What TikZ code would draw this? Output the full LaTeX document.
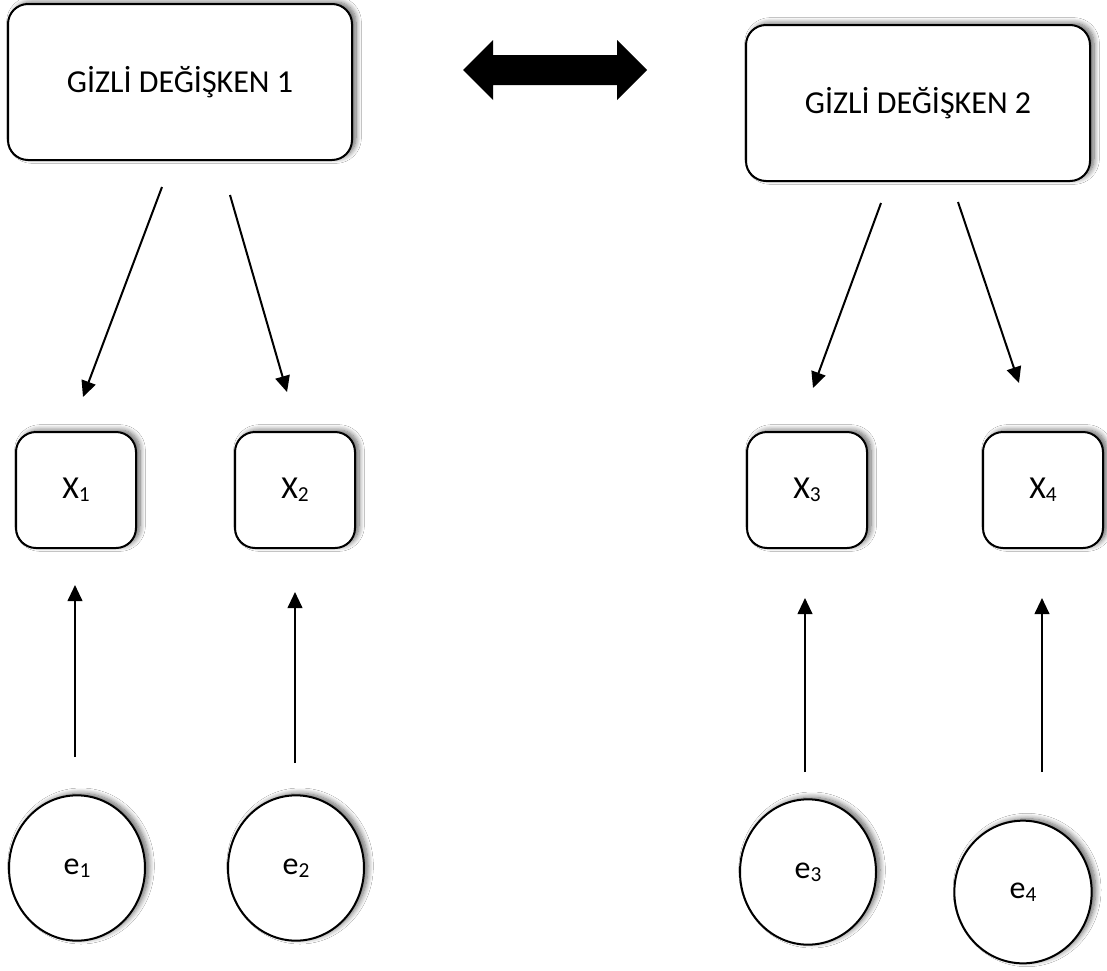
\documentclass[tikz,border=0pt]{standalone}
\usepackage{fontspec}
\setmainfont{Carlito}
\usetikzlibrary{arrows.meta,shapes.geometric,shadows.blur}
\newcommand{\sbs}[1]{\raisebox{-0.1em}{\fontsize{16}{16}\selectfont #1}}
\begin{document}
\begin{tikzpicture}[x=0.75pt,y=-0.75pt,
  shd/.style={blur shadow={shadow xshift=3pt,shadow yshift=1.5pt,shadow blur steps=8,shadow blur radius=4pt,shadow opacity=60}},
  bigbox/.style={draw=black,line width=1.5pt,rounded corners=15pt,fill=white,minimum width=258pt,minimum height=117pt,inner sep=0pt,font=\fontsize{24}{28}\selectfont,shd},
  xbox/.style={draw=black,line width=1.5pt,rounded corners=15pt,fill=white,minimum width=90pt,minimum height=87pt,inner sep=0pt,font=\fontsize{24}{28}\selectfont,shd},
  errc/.style={ellipse,draw=black,line width=1.5pt,fill=white,minimum width=102pt,minimum height=109pt,inner sep=0pt,font=\fontsize{24}{28}\selectfont,shd},
  conn/.style={line width=1.5pt,-{Triangle[length=12pt,width=11pt]}}
]
\fill[white] (0,0) rectangle (1107,971);
\useasboundingbox (0,0) rectangle (1107,971);

\node[bigbox] (g1) at (180,82) {GİZLİ DEĞİŞKEN 1};
\node[bigbox] (g2) at (918,103) {GİZLİ DEĞİŞKEN 2};

\fill[black] (463,70) -- (493,40) -- (493,55) -- (617,55) -- (617,40) -- (647,70)
  -- (617,100) -- (617,85) -- (493,85) -- (493,100) -- cycle;

\node[xbox] (x1) at (76,490) {X\sbs{1}};
\node[xbox] (x2) at (295,490) {X\sbs{2}};
\node[xbox] (x3) at (807,490) {X\sbs{3}};
\node[xbox] (x4) at (1043,490) {X\sbs{4}};

\node[errc] (e1) at (77,868) {e\sbs{1}};
\node[errc] (e2) at (296,868) {e\sbs{2}};
\node[errc] (e3) at (808,872) {e\sbs{3}};
\node[errc,minimum height=107pt,minimum width=103pt] (e4) at (1023,892) {e\sbs{4}};

\coordinate (a1s) at (162,187);
\coordinate (a1e) at (83,397);
\coordinate (a2s) at (230,195);
\coordinate (a2e) at (287,392);
\coordinate (a3s) at (881,203);
\coordinate (a3e) at (813,388);
\coordinate (a4s) at (958,202);
\coordinate (a4e) at (1019,383);
\draw[conn] (a1s) -- (a1e);
\draw[conn] (a2s) -- (a2e);
\draw[conn] (a3s) -- (a3e);
\draw[conn] (a4s) -- (a4e);

\coordinate (b1s) at (75,757);
\coordinate (b1e) at (75,585);
\coordinate (b2s) at (295,763);
\coordinate (b2e) at (295,592);
\coordinate (b3s) at (805,772);
\coordinate (b3e) at (805,598);
\coordinate (b4s) at (1042,772);
\coordinate (b4e) at (1042,598);
\draw[conn] (b1s) -- (b1e);
\draw[conn] (b2s) -- (b2e);
\draw[conn] (b3s) -- (b3e);
\draw[conn] (b4s) -- (b4e);
\end{tikzpicture}
\end{document}
